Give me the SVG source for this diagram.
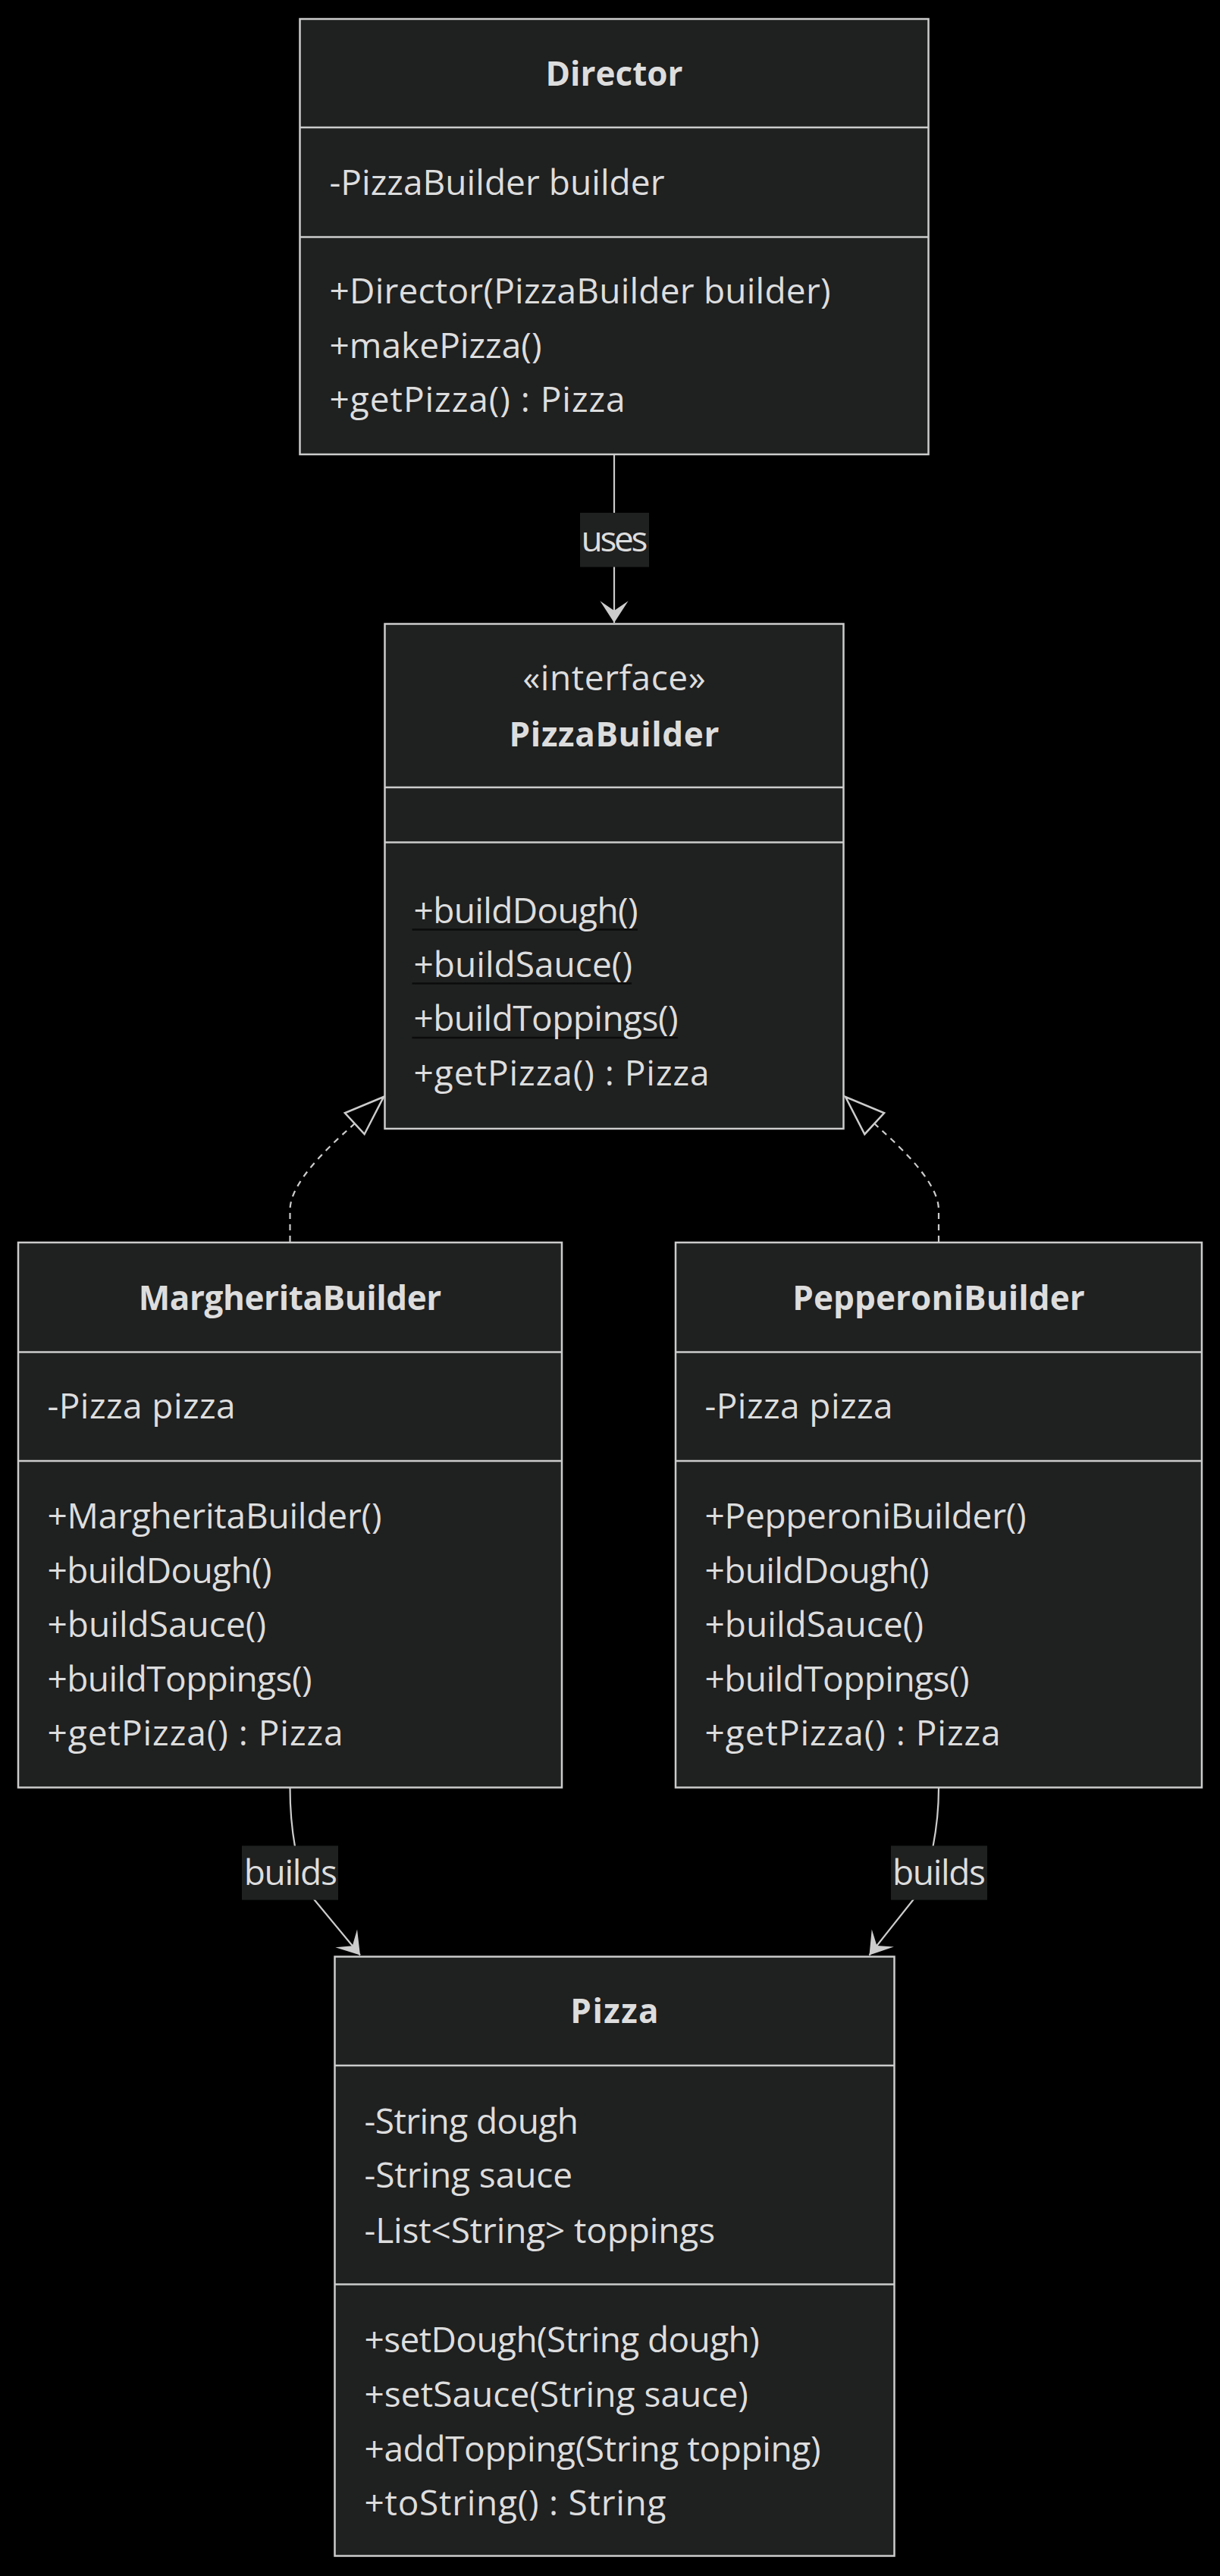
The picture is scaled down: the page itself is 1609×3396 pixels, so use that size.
<svg xmlns="http://www.w3.org/2000/svg" width="1609" height="3396" viewBox="0 0 1609 3396">
<defs>
<style>
.box{fill:#1f2020;stroke:#cccccc;stroke-width:2.5}
.div{stroke:#cccccc;stroke-width:2.5}
.t{font-family:"Open Sans","Liberation Sans",sans-serif;font-size:46px;fill:#dddddd}
.b{font-weight:bold;font-size:44px;text-anchor:middle}
.c{text-anchor:middle}
.edge{fill:none;stroke:#cccccc;stroke-width:2.2}
.dash{stroke-dasharray:8 7}
.lbl{fill:#1f2020}
.ul{stroke:#0b0b0b;stroke-width:2.5}
</style>
<marker id="arrow" markerUnits="userSpaceOnUse" markerWidth="32" markerHeight="40" refX="30" refY="19" orient="auto" overflow="visible"><path d="M30,19 L1.3,0.4 L14,19 L1.3,37.6 Z" fill="#cccccc"/></marker>
<marker id="ext" markerUnits="userSpaceOnUse" markerWidth="60" markerHeight="44" refX="54" refY="22" orient="auto" overflow="visible"><path d="M54,22 L2,3 L2,41 Z" fill="#000000" stroke="#cccccc" stroke-width="2.5"/></marker>
</defs>
<rect x="0" y="0" width="1609" height="3396" fill="#000000"/>

<g id="edges">
<path class="edge" d="M810,599 L810,821" marker-end="url(#arrow)"/>
<path class="edge dash" d="M382.5,1637 L382.5,1595 C382.5,1555 446,1501 468,1481 L506,1446" marker-end="url(#ext)"/>
<path class="edge dash" d="M1238,1637 L1238,1595 C1238,1555 1175.5,1502 1153.5,1481.5 L1115,1446" marker-end="url(#ext)"/>
<path class="edge" d="M382.5,2357 C382.5,2400 389.5,2474 415,2505 L475,2577.5" marker-end="url(#arrow)"/>
<path class="edge" d="M1238,2357 C1238,2400 1228.8,2473.6 1204,2505 L1146.5,2577.5" marker-end="url(#arrow)"/>
</g>

<g id="edge-labels">
<g id="label-uses">
<rect class="lbl" x="765" y="676" width="91" height="71.5"/>
<text class="t c" x="810.5" y="726.7" textLength="88">uses</text>
</g>
<g id="label-builds-1">
<rect class="lbl" x="319" y="2433.3" width="127" height="71.4"/>
<text class="t c" x="383.3" y="2485" textLength="123">builds</text>
</g>
<g id="label-builds-2">
<rect class="lbl" x="1175" y="2433.3" width="127" height="71.4"/>
<text class="t c" x="1238.5" y="2485" textLength="123">builds</text>
</g>
</g>

<g id="Director">
<rect class="box" x="395.5" y="25" width="829" height="574"/>
<line class="div" x1="395.5" y1="168" x2="1224.5" y2="168"/>
<line class="div" x1="395.5" y1="312.5" x2="1224.5" y2="312.5"/>
<text class="t b" x="810" y="112.7" textLength="181">Director</text>
<text class="t" x="434.5" y="257" textLength="442">-PizzaBuilder builder</text>
<text class="t" x="434.5" y="400" textLength="661">+Director(PizzaBuilder builder)</text>
<text class="t" x="434.5" y="471.5" textLength="280">+makePizza()</text>
<text class="t" x="434.5" y="543" textLength="390">+getPizza() : Pizza</text>
</g>

<g id="PizzaBuilder">
<rect class="box" x="507.5" y="822.5" width="605" height="665.5"/>
<line class="div" x1="507.5" y1="1038" x2="1112.5" y2="1038"/>
<line class="div" x1="507.5" y1="1110.5" x2="1112.5" y2="1110.5"/>
<text class="t c" x="810" y="910" textLength="241">«interface»</text>
<text class="t b" x="810" y="983.7" textLength="277">PizzaBuilder</text>
<line class="ul" x1="543.5" y1="1225.5" x2="841" y2="1225.5"/>
<line class="ul" x1="543.5" y1="1296.5" x2="833" y2="1296.5"/>
<line class="ul" x1="543.5" y1="1368" x2="894" y2="1368"/>
<text class="t" x="545.5" y="1216.7" textLength="296">+buildDough()</text>
<text class="t" x="545.5" y="1287.5" textLength="288.5">+buildSauce()</text>
<text class="t" x="545.5" y="1359" textLength="349">+buildToppings()</text>
<text class="t" x="545.5" y="1431" textLength="390">+getPizza() : Pizza</text>
</g>

<g id="MargheritaBuilder">
<rect class="box" x="24" y="1638" width="717" height="718.5"/>
<line class="div" x1="24" y1="1782.5" x2="741" y2="1782.5"/>
<line class="div" x1="24" y1="1926" x2="741" y2="1926"/>
<text class="t b" x="382.5" y="1727" textLength="399.5">MargheritaBuilder</text>
<text class="t" x="62.5" y="1870" textLength="248">-Pizza pizza</text>
<text class="t" x="62.5" y="2015.4" textLength="441">+MargheritaBuilder()</text>
<text class="t" x="62.5" y="2086.5" textLength="296">+buildDough()</text>
<text class="t" x="62.5" y="2158" textLength="288.5">+buildSauce()</text>
<text class="t" x="62.5" y="2229.5" textLength="349">+buildToppings()</text>
<text class="t" x="62.5" y="2301" textLength="390">+getPizza() : Pizza</text>
</g>

<g id="PepperoniBuilder">
<rect class="box" x="891" y="1638" width="694" height="718.5"/>
<line class="div" x1="891" y1="1782.5" x2="1585" y2="1782.5"/>
<line class="div" x1="891" y1="1926" x2="1585" y2="1926"/>
<text class="t b" x="1238" y="1727" textLength="385.5">PepperoniBuilder</text>
<text class="t" x="929.5" y="1870" textLength="248">-Pizza pizza</text>
<text class="t" x="929.5" y="2015.4" textLength="424">+PepperoniBuilder()</text>
<text class="t" x="929.5" y="2086.5" textLength="296">+buildDough()</text>
<text class="t" x="929.5" y="2158" textLength="288.5">+buildSauce()</text>
<text class="t" x="929.5" y="2229.5" textLength="349">+buildToppings()</text>
<text class="t" x="929.5" y="2301" textLength="390">+getPizza() : Pizza</text>
</g>

<g id="Pizza">
<rect class="box" x="441.5" y="2579.5" width="738" height="790"/>
<line class="div" x1="441.5" y1="2723" x2="1179.5" y2="2723"/>
<line class="div" x1="441.5" y1="3011.5" x2="1179.5" y2="3011.5"/>
<text class="t b" x="810.5" y="2667" textLength="116.4">Pizza</text>
<text class="t" x="480.5" y="2812.5" textLength="282.5">-String dough</text>
<text class="t" x="480.5" y="2884" textLength="274.6">-String sauce</text>
<text class="t" x="480.5" y="2956.5" textLength="462.6">-List&lt;String&gt; toppings</text>
<text class="t" x="480.5" y="3101" textLength="521.3">+setDough(String dough)</text>
<text class="t" x="480.5" y="3173" textLength="506.4">+setSauce(String sauce)</text>
<text class="t" x="480.5" y="3244.5" textLength="602">+addTopping(String topping)</text>
<text class="t" x="480.5" y="3316" textLength="398">+toString() : String</text>
</g>
</svg>
